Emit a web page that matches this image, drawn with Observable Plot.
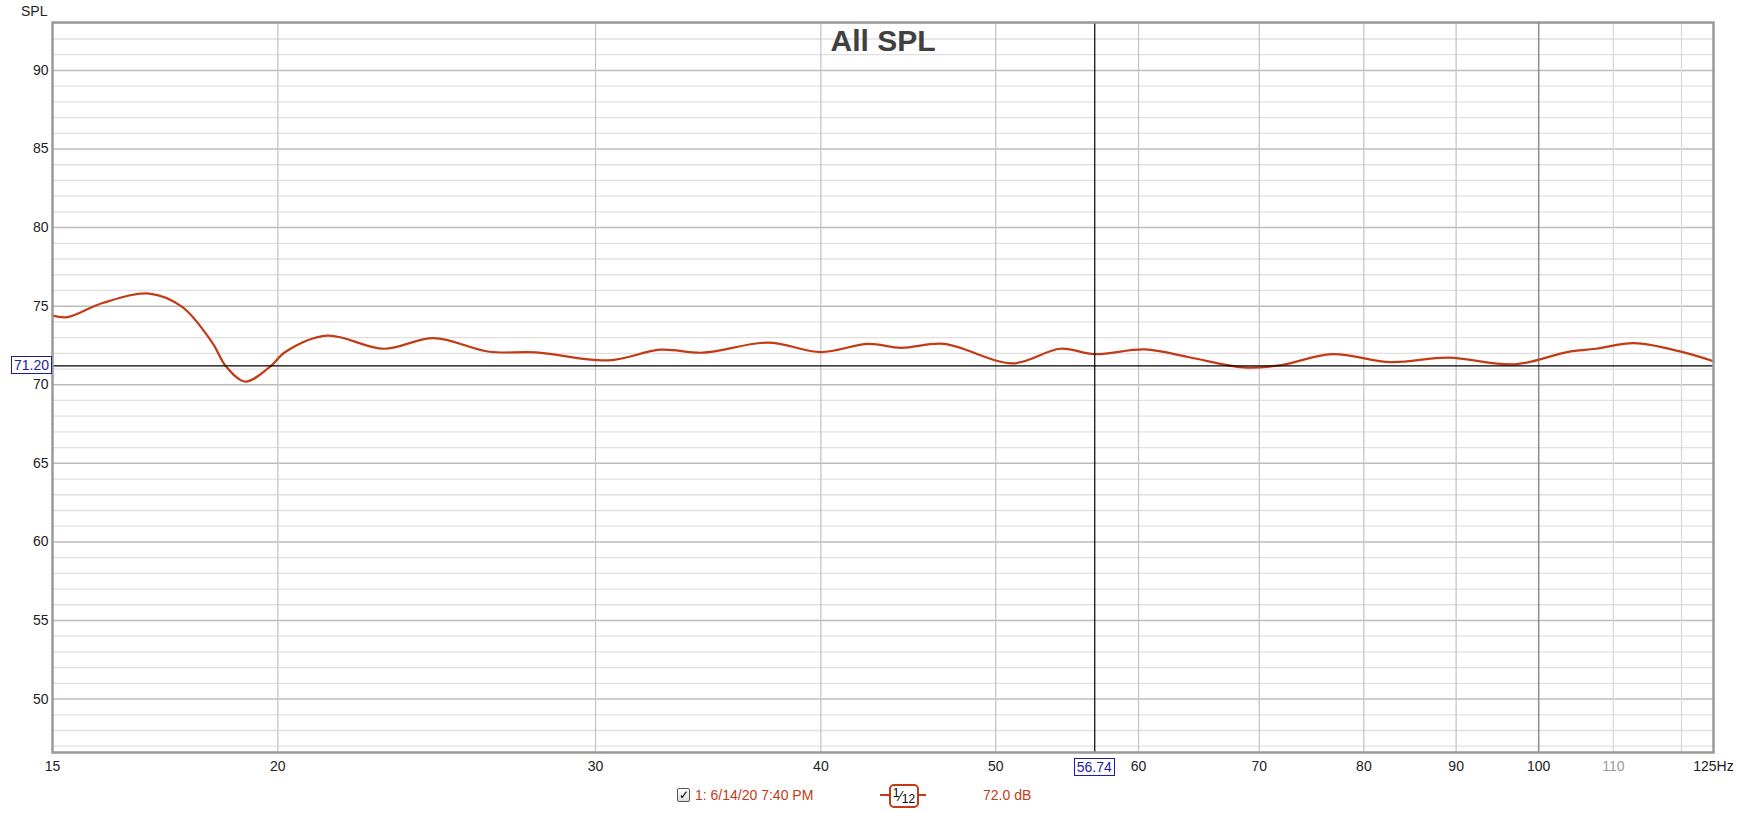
<!DOCTYPE html>
<html><head><meta charset="utf-8">
<script src="https://cdn.jsdelivr.net/npm/d3@7"></script>
<script src="https://cdn.jsdelivr.net/npm/@observablehq/plot@0.6"></script>
<style>
html,body{margin:0;padding:0;background:#fff;overflow:hidden;}
#wrap{position:relative;width:1738px;height:813px;font-family:"Liberation Sans",Arial,sans-serif;}
.abs{position:absolute;white-space:nowrap;}
.cur{position:absolute;border:1px solid #1c1ca8;color:#1c1ca8;background:#fff;font-size:14px;line-height:16px;padding:0 2px;}
</style></head><body><div id="wrap"></div>
<script>
const freq = [15, 15.29, 15.99, 16.97, 17.7, 18.4, 18.71, 19.18, 19.78, 20.2, 21.3, 22.9, 24.4, 26.2, 27.8, 30.5, 32.6, 34.4, 37.4, 40.0, 42.5, 44.3, 46.8, 51.1, 54.3, 56.74, 60.5, 64.0, 68.6, 72.0, 76.8, 82.8, 89.1, 97.0, 103.7, 107.6, 113.0, 119.6, 125];
const spl = [74.4, 74.3, 75.2, 75.8, 74.95, 72.65, 71.2, 70.2, 71.1, 72.1, 73.12, 72.29, 72.97, 72.1, 72.06, 71.55, 72.23, 72.04, 72.68, 72.08, 72.6, 72.35, 72.6, 71.36, 72.29, 71.95, 72.25, 71.75, 71.1, 71.25, 71.95, 71.44, 71.72, 71.3, 72.08, 72.29, 72.65, 72.14, 71.5];
const yMajorTicks = [50, 55, 60, 65, 70, 75, 80, 85, 90];
const yMinorTicks = [47, 48, 49, 51, 52, 53, 54, 56, 57, 58, 59, 61, 62, 63, 64, 66, 67, 68, 69, 71, 72, 73, 74, 76, 77, 78, 79, 81, 82, 83, 84, 86, 87, 88, 89, 91, 92, 93];
const xTickLabels = [15, 20, 30, 40, 50, 60, 70, 80, 90, 100, 125];
const xTickLabelsFaint = [110];
const xGridMid = [20, 30, 40, 50, 60, 70, 80, 90];
const xGridDark = [100];
const xGridLight = [110, 120];
const cursorHz = 56.74;
const cursorDb = 71.20;
const title = "All SPL";
const yLabel = "SPL";
const traceName = "1: 6/14/20 7:40 PM";
const traceValue = "72.0 dB";
const smoothNum = "1", smoothDen = "12";

const data = freq.map((f, i) => ({f, v: spl[i]}));
const lineColor = "#c23b16";
const fmt = d => d === 125 ? "125Hz" : String(d);

const plot = Plot.plot({
  width: 1738, height: 813,
  marginLeft: 52, marginRight: 25, marginTop: 22, marginBottom: 61,
  x: {type: "log", domain: [15, 125], label: null},
  y: {domain: [46.6, 93.05], label: null},
  style: {fontFamily: "'Liberation Sans', Arial, sans-serif", fontSize: "14px", color: "#222", background: "#fff"},
  marks: [
    Plot.ruleY(yMinorTicks, {stroke: "#e0e0e0", strokeWidth: 1.3}),
    Plot.ruleY(yMajorTicks, {stroke: "#bcbcbc", strokeWidth: 1.5}),
    Plot.ruleX(xGridMid, {stroke: "#c6c6c6", strokeWidth: 1.3}),
    Plot.ruleX(xGridDark, {stroke: "#8c8c8c", strokeWidth: 1.5}),
    Plot.ruleX(xGridLight, {stroke: "#dadada", strokeWidth: 1.3}),
    Plot.line(data, {x: "f", y: "v", stroke: lineColor, strokeWidth: 2.2, curve: "catmull-rom"}),
    Plot.ruleX([cursorHz], {stroke: "#000", strokeWidth: 1.2}),
    Plot.ruleY([cursorDb], {stroke: "#000", strokeWidth: 1.2}),
    Plot.text([title], {frameAnchor: "top", dy: 7, fontSize: 30, fontWeight: "bold", fill: "#404040"}),
    Plot.frame({stroke: "#9a9a9a", strokeWidth: 2.5}),
    Plot.axisX(xTickLabels, {tickSize: 0, tickPadding: 9, tickFormat: fmt, label: null, fill: "#222"}),
    Plot.axisX(xTickLabelsFaint, {tickSize: 0, tickPadding: 9, tickFormat: fmt, label: null, fill: "#9a9a9a"}),
    Plot.axisY(yMajorTicks, {tickSize: 0, tickPadding: 4, label: null, fill: "#222"})
  ]
});

const wrap = document.getElementById("wrap");
wrap.appendChild(plot);

const xs = plot.scale("x"), ys = plot.scale("y");
const cy = ys.apply(cursorDb), cx = xs.apply(cursorHz);

function add(html, css, cls) {
  const d = document.createElement("div");
  d.className = cls || "abs";
  d.innerHTML = html;
  Object.assign(d.style, css);
  wrap.appendChild(d);
  return d;
}
// y axis label
add(yLabel, {left: "21px", top: "3px", fontSize: "14px", color: "#222"});
// cursor readouts
const yb = add(cursorDb.toFixed(2), {}, "cur");
yb.style.left = (52 - yb.offsetWidth) + "px";
yb.style.top = (cy - yb.offsetHeight / 2) + "px";
const xb = add(cursorHz.toFixed(2), {}, "cur");
xb.style.left = (cx - xb.offsetWidth / 2) + "px";
xb.style.top = "758px";
// legend
add("&#10003;", {left: "677px", top: "788px", width: "11px", height: "12px", border: "1px solid #555", borderRadius: "2px", fontSize: "12px", lineHeight: "12px", textAlign: "center", color: "#000", background: "linear-gradient(#fff,#ddd)"});
add(traceName, {left: "695px", top: "787px", fontSize: "14px", color: lineColor});
add("", {left: "880px", top: "794px", width: "46px", height: "0", borderTop: "2px solid " + lineColor});
add(`<span style="font-size:12px;position:relative;top:-4px">${smoothNum}</span><span style="font-size:14px">&#8260;</span><span style="font-size:12px;position:relative;top:2px">${smoothDen}</span>`,
    {left: "889px", top: "784px", width: "26px", height: "20px", border: "2px solid " + lineColor, borderRadius: "5px", background: "#fff", color: "#000", textAlign: "center", lineHeight: "20px", fontSize: "12px"});
add(traceValue, {left: "983px", top: "787px", fontSize: "14px", color: lineColor});
</script>
</body></html>
